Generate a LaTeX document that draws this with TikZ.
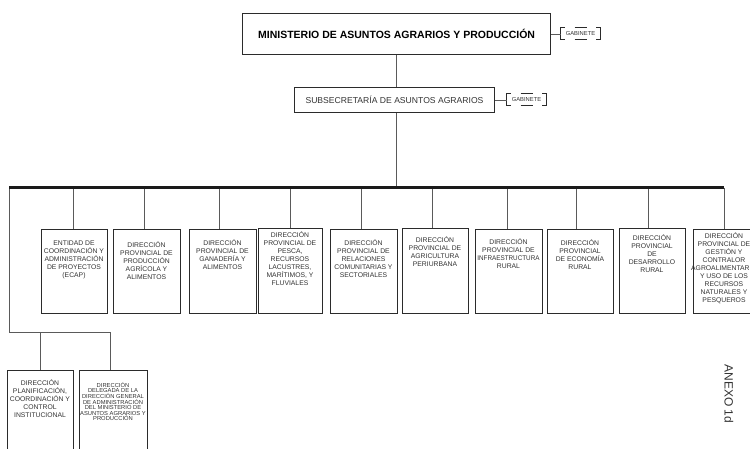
\documentclass[tikz,border=0pt]{standalone}
\usepackage{fontspec}
\setmainfont{Liberation Sans}
\definecolor{boxc}{HTML}{2B2B2B}
\definecolor{linec}{HTML}{5A5A5A}
\definecolor{txtc}{HTML}{333333}
\definecolor{busc}{HTML}{1A1A1A}
\begin{document}
\begin{tikzpicture}[x=1pt,y=-1pt,
  box/.style={draw=boxc, line width=1.2pt, inner sep=0pt, anchor=north west},
  conn/.style={draw=linec, line width=0.7pt},
  txt/.style={anchor=north, align=center, font=\fontsize{6.8}{8}\selectfont, text=txtc, inner sep=0pt},
  smalltxt/.style={anchor=north, align=center, font=\fontsize{5.8}{5.6}\selectfont, text=txtc, inner sep=0pt},
  gabbox/.style={inner sep=0pt, minimum width=39pt, minimum height=12pt, font=\fontsize{5.8}{6}\selectfont, text=txtc},
  gab/.style={draw=boxc, line width=0.8pt},
]
\useasboundingbox (0,0) rectangle (750,449);
\clip (0,0) rectangle (750,449);
\fill[white] (0,0) rectangle (750,449);

% top boxes
\node[box, minimum width=308pt, minimum height=41pt, font=\bfseries\fontsize{10.5}{12}\selectfont] (min) at (242,13) {MINISTERIO DE ASUNTOS AGRARIOS Y PRODUCCIÓN};
\node[box, line width=1pt, minimum width=200pt, minimum height=25pt, font=\fontsize{8.6}{10}\selectfont, text=txtc] (sub) at (294,87) {SUBSECRETARÍA DE ASUNTOS AGRARIOS};

% gabinete boxes
\node[gabbox] (g1) at (580.5,33.5) {GABINETE};
\node[gabbox, minimum width=39pt, minimum height=11pt] (g2) at (526.5,99.5) {GABINETE};
\foreach \g in {g1,g2}{
  \draw[gab] ([xshift=4pt]\g.north west) -- (\g.north west) -- (\g.south west) -- ([xshift=4pt]\g.south west);
  \draw[gab] ([xshift=-4pt]\g.north east) -- (\g.north east) -- (\g.south east) -- ([xshift=-4pt]\g.south east);
  \draw[gab] ([xshift=-6pt]\g.north) -- ([xshift=6pt]\g.north);
  \draw[gab] ([xshift=-6pt]\g.south) -- ([xshift=6pt]\g.south);
}
\draw[conn] (min.east) -- (min.east -| g1.west);
\draw[conn] (sub.east) -- (sub.east -| g2.west);

% bus
\coordinate (busL) at (9,188);
\coordinate (busR) at (724,188);
\coordinate (top) at (396,188);
\draw[conn] (min.south -| top) -- (sub.north -| top);
\draw[conn] (sub.south -| top) -- (top);

% row boxes
\node[box, minimum width=66pt, minimum height=84pt] (b1) at (41,229) {};
\node[box, minimum width=67pt, minimum height=84pt] (b2) at (113,229) {};
\node[box, minimum width=67pt, minimum height=84pt] (b3) at (189,229) {};
\node[box, minimum width=64pt, minimum height=85pt] (b4) at (258,228) {};
\node[box, minimum width=67pt, minimum height=84pt] (b5) at (330,229) {};
\node[box, minimum width=66pt, minimum height=85pt] (b6) at (402,228) {};
\node[box, minimum width=67pt, minimum height=84pt] (b7) at (475,229) {};
\node[box, minimum width=66pt, minimum height=84pt] (b8) at (547,229) {};
\node[box, minimum width=66pt, minimum height=85pt] (b9) at (619,228) {};
\node[box, minimum width=62pt, minimum height=84pt] (b10) at (693,229) {};

\node[txt] (t1) at (74,240.5) {ENTIDAD DE\\COORDINACIÓN Y\\ADMINISTRACIÓN\\DE PROYECTOS\\(ECAP)};
\node[txt] (t2) at (146.5,241) {DIRECCIÓN\\PROVINCIAL DE\\PRODUCCIÓN\\AGRÍCOLA Y\\ALIMENTOS};
\node[txt] (t3) at (222.5,239) {DIRECCIÓN\\PROVINCIAL DE\\GANADERÍA Y\\ALIMENTOS};
\node[txt] (t4) at (290,231) {DIRECCIÓN\\PROVINCIAL DE\\PESCA,\\RECURSOS\\LACUSTRES,\\MARÍTIMOS, Y\\FLUVIALES};
\node[txt] (t5) at (363.5,239) {DIRECCIÓN\\PROVINCIAL DE\\RELACIONES\\COMUNITARIAS Y\\SECTORIALES};
\node[txt] (t6) at (435,236) {DIRECCIÓN\\PROVINCIAL DE\\AGRICULTURA\\PERIURBANA};
\node[txt] (t7) at (508.5,238) {DIRECCIÓN\\PROVINCIAL DE\\\scalebox{0.93}[1]{INFRAESTRUCTURA}\\RURAL};
\node[txt] (t8) at (580,239) {DIRECCIÓN\\PROVINCIAL\\DE ECONOMÍA\\RURAL};
\node[txt] (t9) at (652,234) {DIRECCIÓN\\PROVINCIAL\\DE\\DESARROLLO\\RURAL};
\node[txt] (t10) at (724,232) {DIRECCIÓN\\PROVINCIAL DE\\GESTIÓN Y\\CONTRALOR\\AGROALIMENTARIO\\Y USO DE LOS\\RECURSOS\\NATURALES Y\\PESQUEROS};

% connectors to row boxes
\foreach \x/\b in {73/b1,144/b2,219/b3,290/b4,361/b5,432/b6,507/b7,576/b8,648/b9,724/b10}{
  \coordinate (c\b) at (\x,188);
  \draw[conn] (c\b) -- (c\b |- \b.north);
}

% lower boxes
\node[box, minimum width=66pt, minimum height=90pt] (lb1) at (7,370) {};
\node[box, minimum width=68pt, minimum height=90pt] (lb2) at (79,370) {};
\node[txt] (lt1) at (40,379) {DIRECCIÓN\\PLANIFICACIÓN,\\COORDINACIÓN Y\\CONTROL\\INSTITUCIONAL};
\node[smalltxt] (lt2) at (113,382) {DIRECCIÓN\\DELEGADA DE LA\\DIRECCIÓN GENERAL\\DE ADMINISTRACIÓN\\DEL MINISTERIO DE\\ASUNTOS AGRARIOS Y\\PRODUCCIÓN};

\coordinate (lc) at (9,332);
\coordinate (lh1) at (40,332);
\coordinate (lh2) at (110,332);
\draw[conn] (busL) -- (lc) -- (lh2);
\draw[conn] (lh1) -- (lh1 |- lb1.north);
\draw[conn] (lh2) -- (lh2 |- lb2.north);

% bus line on top
\draw[draw=busc, line width=3pt] (busL) -- (busR);

% annex label
\node[rotate=-90, font=\fontsize{12}{14}\selectfont, text=txtc, inner sep=0pt] (anexo) at (729,394) {ANEXO 1d};
\end{tikzpicture}
\end{document}
